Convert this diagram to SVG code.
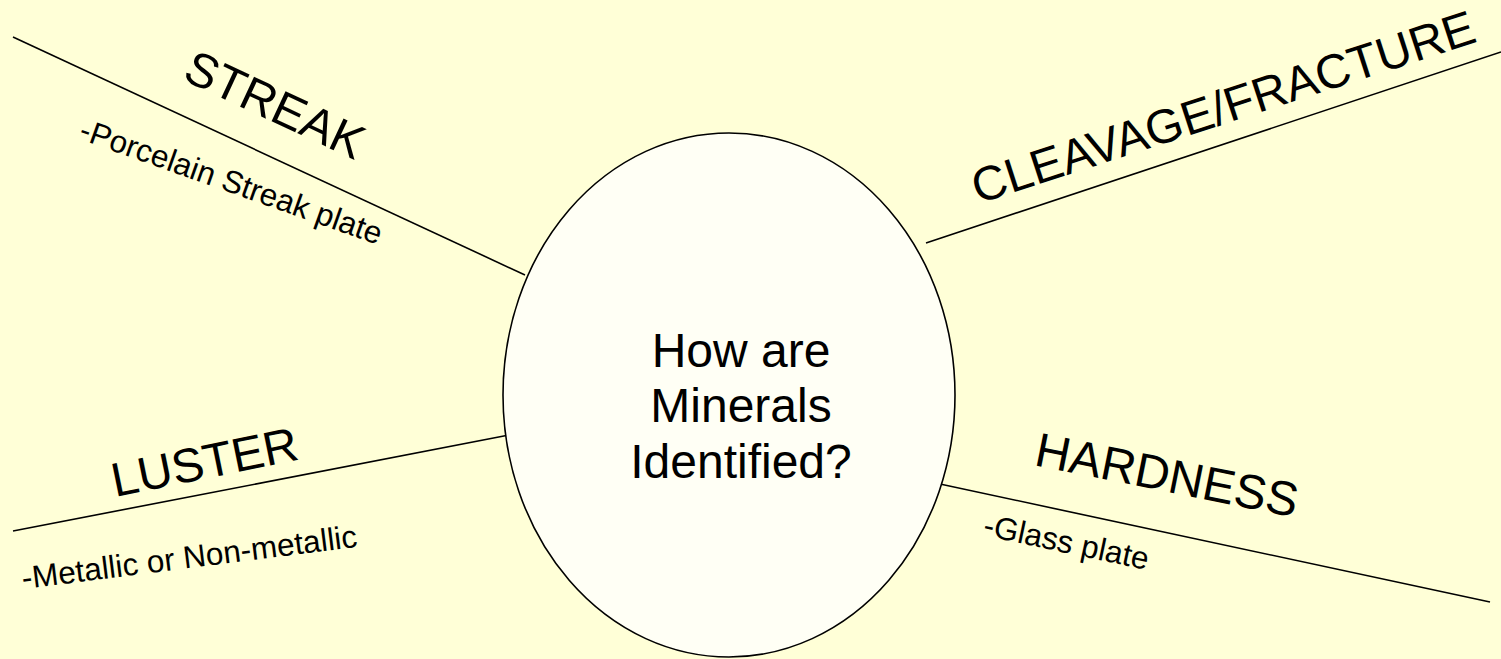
<svg xmlns="http://www.w3.org/2000/svg" width="1501" height="659" viewBox="0 0 1501 659">
<style>
.t{font-family:"Liberation Sans",Arial,sans-serif;fill:#000}
.big{font-size:48px}
.small{font-size:31.5px}
.ln{stroke:#000;stroke-width:1.6;fill:none}
</style>
<rect width="1501" height="659" fill="#FFFFD7"/>
<g id="connectors">
<line class="ln" x1="13" y1="37" x2="525" y2="275"/>
<line class="ln" x1="926" y1="243" x2="1501" y2="52"/>
<line class="ln" x1="13" y1="531" x2="509" y2="435"/>
<line class="ln" x1="940" y1="484" x2="1490" y2="602"/>
</g>
<g id="center">
<ellipse cx="729" cy="395" rx="226" ry="262" fill="#FFFFF5" stroke="#000" stroke-width="1.6"/>
<text class="t big" text-anchor="middle" x="741" y="367">How are</text>
<text class="t big" text-anchor="middle" x="741" y="422">Minerals</text>
<text class="t big" text-anchor="middle" x="741" y="478">Identified?</text>
</g>
<g id="streak">
<text class="t big" transform="translate(181,79) rotate(25)">STREAK</text>
<text class="t small" transform="translate(77.5,138.5) rotate(19.5)">-Porcelain Streak plate</text>
</g>
<g id="cleavage">
<text class="t big" transform="translate(978,204) rotate(-18)">CLEAVAGE/FRACTURE</text>
</g>
<g id="luster">
<text class="t big" transform="translate(115,497) rotate(-11.5)">LUSTER</text>
<text class="t small" transform="translate(23,589) rotate(-7.2)">-Metallic or Non-metallic</text>
</g>
<g id="hardness">
<text class="t big" transform="translate(1033,465) rotate(11.3)">HARDNESS</text>
<text class="t small" transform="translate(982,535) rotate(12)">-Glass plate</text>
</g>
</svg>
